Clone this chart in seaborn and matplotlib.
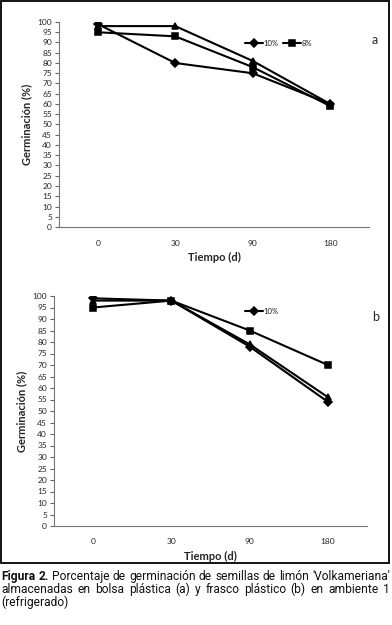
import numpy as np
import pandas as pd
import matplotlib
matplotlib.use("Agg")
import matplotlib.pyplot as plt
import seaborn as sns
from matplotlib.patches import Rectangle

sns.set_style("white")
plt.rcParams['font.family'] = ['Lato', 'DejaVu Sans']

# data
tiempo = ['0', '30', '90', '180']
series = ['10%', '8%', 'otro']

a_10 = [99, 80, 75, 60]
a_8 = [95, 93, 78, 59]
a_otro = [98, 98, 81, 60]

b_10 = [99, 98, 78, 54]
b_8 = [95, 98, 85, 70]
b_otro = [98, 98, 79, 56]

yticks = list(range(0, 101, 5))

W, H = 392, 625
fig = plt.figure(figsize=(W / 100, H / 100), dpi=100)


def ax_px(left, top, right, bottom):
    return fig.add_axes([left / W, 1 - bottom / H, (right - left) / W, (bottom - top) / H])


def panel(ax, vals, n_leg, leg_xy, letter_xy, letter):
    df = pd.DataFrame({
        'tiempo': tiempo * 3,
        'germ': vals[0] + vals[1] + vals[2],
        'serie': np.repeat(series, 4),
    })
    sns.pointplot(data=df, x='tiempo', y='germ', hue='serie', ax=ax,
                  palette=['black'] * 3, markers=['D', 's', '^'], linestyles='-',
                  markersize=4.5, linewidth=1.5)
    h, l = ax.get_legend_handles_labels()
    ax.get_legend().remove()
    fig.legend(h[:n_leg], l[:n_leg], loc='center left',
               bbox_to_anchor=(leg_xy[0] / W, 1 - leg_xy[1] / H),
               ncol=n_leg, frameon=False, fontsize=5.5, handlelength=2.4,
               handletextpad=0.0, columnspacing=0.6, borderpad=0, borderaxespad=0,
               labelcolor='#1a1a2e')
    ax.set_xlim(-0.5, 3.5)
    ax.set_ylim(0, 100)
    ax.set_yticks(yticks)
    ax.set_yticklabels([str(v) for v in yticks], fontsize=6)
    ax.set_xticks(range(4))
    ax.set_xticklabels(tiempo, fontsize=6)
    ax.set_xticks(np.arange(-0.5, 4, 1), minor=True)
    ax.tick_params(axis='x', which='major', length=0, pad=9)
    ax.tick_params(axis='x', which='minor', length=3, width=0.8, color='#666666', direction='out')
    ax.tick_params(axis='y', length=3, width=0.8, color='#666666', direction='out', pad=2, left=True)
    for s in ['top', 'right']:
        ax.spines[s].set_visible(False)
    for s in ['left', 'bottom']:
        ax.spines[s].set_color('#777777')
        ax.spines[s].set_linewidth(0.8)
    ax.set_xlabel('Tiempo (d)', fontsize=8, fontweight='bold', labelpad=4)
    ax.set_ylabel('Germinación (%)', fontsize=8, fontweight='bold', labelpad=4)
    fig.text(letter_xy[0] / W, 1 - letter_xy[1] / H, letter, fontsize=9,
             ha='center', va='center')


ax1 = ax_px(59, 22, 369, 227)
panel(ax1, [a_10, a_8, a_otro], 2, (245, 43), (375, 40), 'a')

ax2 = ax_px(54, 296, 367, 526)
panel(ax2, [b_10, b_8, b_otro], 1, (245, 311), (376, 317), 'b')

# outer frame
fig.patches.append(Rectangle((1 / W, 1 - 563 / H), 388 / W, 562 / H,
                             transform=fig.transFigure, fill=False,
                             edgecolor='black', linewidth=1.3))

# caption, justified by hand
cap_font = ['Roboto', 'DejaVu Sans']
lines = [
    ([('Figura', 'bold'), ('2.', 'bold'), ('Porcentaje', 'normal'), ('de', 'normal'),
      ('germinación', 'normal'), ('de', 'normal'), ('semillas', 'normal'), ('de', 'normal'),
      ('limón', 'normal'), ("'Volkameriana'", 'normal')], True),
    ([('almacenadas', 'normal'), ('en', 'normal'), ('bolsa', 'normal'), ('plástica', 'normal'),
      ('(a)', 'normal'), ('y', 'normal'), ('frasco', 'normal'), ('plástico', 'normal'),
      ('(b)', 'normal'), ('en', 'normal'), ('ambiente', 'normal'), ('1', 'normal')], True),
    ([('(refrigerado)', 'normal')], False),
]
baselines = [580, 593, 606]
x0, x1 = 1, 390
min_gap = 3.0
renderer = fig.canvas.get_renderer()

# pick one font size that lets the longest line fit with a minimum gap
size = 9
for words, justify in lines:
    probe = [fig.text(0, 0, w, fontsize=size, fontweight=wt, family=cap_font) for w, wt in words]
    need = sum(t.get_window_extent(renderer).width for t in probe) + min_gap * (len(words) - 1)
    for t in probe:
        t.remove()
    if need > x1 - x0:
        size = min(size, size * (x1 - x0 - min_gap * (len(words) - 1)) /
                   (need - min_gap * (len(words) - 1)))

for (words, justify), yy in zip(lines, baselines):
    texts = [fig.text(0, 1 - yy / H, w, fontsize=size, fontweight=wt, family=cap_font,
                      va='baseline', ha='left', color='#111111') for w, wt in words]
    widths = [t.get_window_extent(renderer).width for t in texts]
    if justify and len(texts) > 1:
        gap = (x1 - x0 - sum(widths)) / (len(texts) - 1)
    else:
        gap = min_gap
    x = x0
    for t, wd in zip(texts, widths):
        t.set_x(x / W)
        x += wd + gap

fig.savefig('out.png', dpi=100)
